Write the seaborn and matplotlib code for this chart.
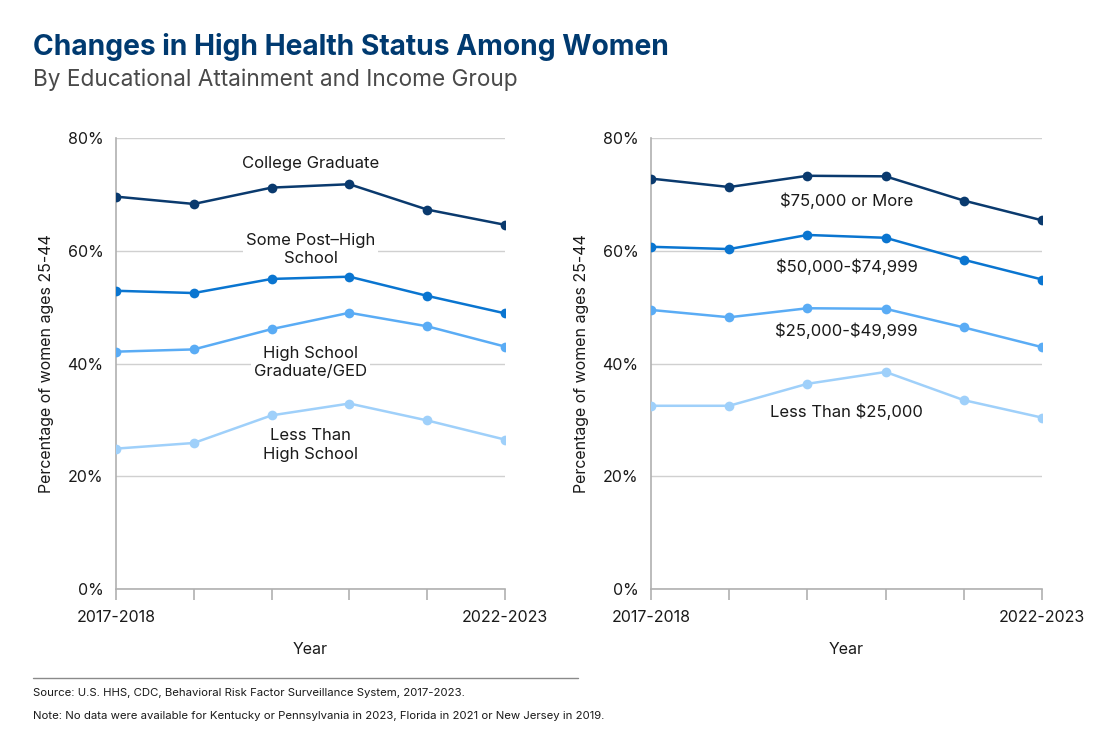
import matplotlib
matplotlib.use("Agg")
import matplotlib.pyplot as plt
import seaborn as sns
import pandas as pd
from matplotlib.ticker import FuncFormatter

periods = ["2017-2018", "2018-2019", "2019-2020", "2020-2021", "2021-2022", "2022-2023"]

edu_groups = ["College Graduate", "Some Post-High School", "High School Graduate/GED", "Less Than High School"]
college_grad = [69.6, 68.3, 71.2, 71.8, 67.3, 64.6]
some_post_hs = [52.9, 52.5, 55.0, 55.4, 52.0, 48.9]
hs_grad_ged = [42.1, 42.5, 46.1, 49.0, 46.6, 43.0]
less_than_hs = [24.9, 25.9, 30.8, 32.9, 29.9, 26.5]

inc_groups = ["$75,000 or More", "$50,000-$74,999", "$25,000-$49,999", "Less Than $25,000"]
inc_75k_plus = [72.8, 71.3, 73.3, 73.2, 68.9, 65.4]
inc_50_75k = [60.7, 60.3, 62.8, 62.3, 58.4, 54.9]
inc_25_50k = [49.5, 48.2, 49.8, 49.7, 46.4, 42.9]
inc_lt_25k = [32.5, 32.5, 36.4, 38.5, 33.5, 30.4]

edu_labels = ["College Graduate", "Some Post\u2013High\nSchool", "High School\nGraduate/GED", "Less Than\nHigh School"]
edu_label_y = [75.4, 60.2, 40.2, 25.5]
inc_labels = ["$75,000 or More", "$50,000-$74,999", "$25,000-$49,999", "Less Than $25,000"]
inc_label_y = [68.8, 57.1, 45.8, 31.4]

palette = ["#0a3a6e", "#0a75d0", "#5aacf5", "#9fd0fa"]

sns.set_theme(style="white")
plt.rcParams["font.family"] = ["Inter", "DejaVu Sans"]

def long_df(groups, series):
    rows = []
    for g, vals in zip(groups, series):
        for i, v in enumerate(vals):
            rows.append({"x": i, "value": v, "group": g})
    return pd.DataFrame(rows)

df_edu = long_df(edu_groups, [college_grad, some_post_hs, hs_grad_ged, less_than_hs])
df_inc = long_df(inc_groups, [inc_75k_plus, inc_50_75k, inc_25_50k, inc_lt_25k])

fig = plt.figure(figsize=(11.16, 7.56), dpi=100)
ax1 = fig.add_axes([116/1116, 1-589/756, (505-116)/1116, (589-138)/756])
ax2 = fig.add_axes([651/1116, 1-589/756, (1042-651)/1116, (589-138)/756])

def style_axes(ax, df, groups, labels, label_y):
    sns.lineplot(data=df, x="x", y="value", hue="group", hue_order=groups,
                 palette=palette, marker="o", markersize=7, markeredgewidth=0,
                 linewidth=1.8, ax=ax, legend=False, zorder=3)
    ax.set_xlim(0, len(periods) - 1)
    ax.set_ylim(0, 80)
    ax.set_yticks([0, 20, 40, 60, 80])
    ax.yaxis.set_major_formatter(FuncFormatter(lambda v, p: f"{int(v)}%"))
    ax.set_xticks(range(len(periods)))
    ax.set_xticklabels([periods[0]] + [""] * (len(periods) - 2) + [periods[-1]])
    ax.grid(axis="y", color="#d0d0d0", linewidth=1)
    ax.set_axisbelow(True)
    for s in ["top", "right"]:
        ax.spines[s].set_visible(False)
    for s in ["left", "bottom"]:
        ax.spines[s].set_color("#b0b0b0")
        ax.spines[s].set_linewidth(1.2)
    ax.tick_params(axis="x", bottom=True, length=8, width=1.2, color="#b0b0b0",
                   labelsize=11.5, labelcolor="#1a1a1a", pad=7)
    ax.tick_params(axis="y", left=False, length=0, labelsize=11.5, labelcolor="#1a1a1a", pad=9)
    ax.set_xlabel("Year", fontsize=11.5, color="#1a1a1a", labelpad=12)
    ax.set_ylabel("Percentage of women ages 25-44", fontsize=11.5, color="#1a1a1a", labelpad=10)
    mid = (len(periods) - 1) / 2
    for lab, yy in zip(labels, label_y):
        ax.text(mid, yy, lab, ha="center", va="center", fontsize=12, color="#1a1a1a",
                linespacing=1.3, zorder=4, parse_math=False,
                bbox=dict(facecolor="white", edgecolor="none", pad=2))

style_axes(ax1, df_edu, edu_groups, edu_labels, edu_label_y)
style_axes(ax2, df_inc, inc_groups, inc_labels, inc_label_y)

fig.text(33/1116, 1-47/756, "Changes in High Health Status Among Women", fontsize=20.3,
         fontweight="bold", color="#003a70", ha="left", va="center")
fig.text(33/1116, 1-80/756, "By Educational Attainment and Income Group", fontsize=16.3,
         color="#4a4a4a", ha="left", va="center")

fig.add_artist(plt.Line2D([33/1116, 578/1116], [1-678/756, 1-678/756],
                          color="#8a8a8a", linewidth=1, transform=fig.transFigure))
fig.text(33/1116, 1-693/756, "Source: U.S. HHS, CDC, Behavioral Risk Factor Surveillance System, 2017-2023.",
         fontsize=8.2, color="#1a1a1a", ha="left", va="center")
fig.text(33/1116, 1-716/756,
         "Note: No data were available for Kentucky or Pennsylvania in 2023, Florida in 2021 or New Jersey in 2019.",
         fontsize=8.2, color="#1a1a1a", ha="left", va="center")

fig.savefig("out.png", dpi=100, facecolor="white")
